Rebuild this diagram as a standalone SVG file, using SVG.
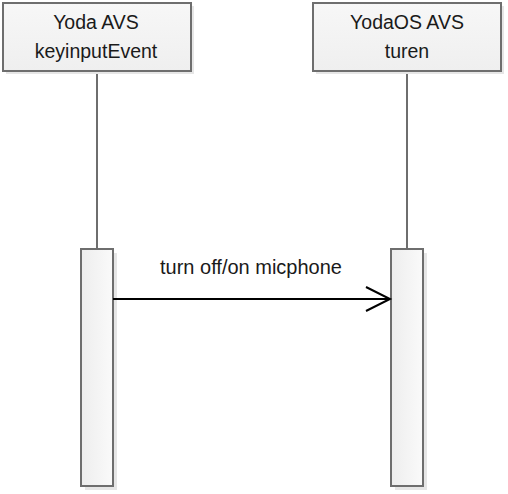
<svg xmlns="http://www.w3.org/2000/svg" width="508" height="494" viewBox="0 0 508 494">
<defs>
<linearGradient id="act" x1="0" y1="0" x2="1" y2="0">
<stop offset="0" stop-color="#ededed"/>
<stop offset="1" stop-color="#fafafa"/>
</linearGradient>
<linearGradient id="hdr" x1="0" y1="0" x2="0" y2="1">
<stop offset="0" stop-color="#f7f7f7"/>
<stop offset="1" stop-color="#efefef"/>
</linearGradient>
</defs>
<style>
.shadow{fill:#e6e6e6;stroke:none}
.box{fill:url(#hdr);stroke:#6e6e6e;stroke-width:2}
.act{fill:url(#act);stroke:#6e6e6e;stroke-width:2}
.life{stroke:#6e6e6e;stroke-width:2;fill:none}
.t{font-family:"Liberation Sans",Arial,sans-serif;font-size:19.5px;fill:#1a1a1a;text-anchor:middle}
.msg{stroke:#000;stroke-width:2;fill:none}
</style>
<rect width="508" height="494" fill="#fff"/>
<g id="lifelines">
<line class="life" x1="97" y1="71" x2="97" y2="249"/>
<line class="life" x1="407" y1="71" x2="407" y2="249"/>
</g>
<g id="node-yoda-avs">
<rect class="shadow" x="6" y="6" width="188" height="68"/>
<rect class="box" x="3" y="3" width="188" height="68"/>
<text class="t" x="96" y="29">Yoda AVS</text>
<text class="t" x="96" y="58">keyinputEvent</text>
</g>
<g id="node-yodaos-avs">
<rect class="shadow" x="316" y="6" width="188" height="68"/>
<rect class="box" x="313" y="3" width="188" height="68"/>
<text class="t" x="407" y="29">YodaOS AVS</text>
<text class="t" x="407" y="58">turen</text>
</g>
<g id="activation-left">
<rect class="shadow" x="85" y="253" width="32" height="237"/>
<rect class="act" x="81" y="249" width="32" height="237"/>
</g>
<g id="activation-right">
<rect class="shadow" x="395" y="253" width="32" height="237"/>
<rect class="act" x="391" y="249" width="32" height="237"/>
</g>
<g id="connectors">
<line class="msg" x1="113" y1="299" x2="390" y2="299"/>
<polyline class="msg" points="366,287 390,299 366,311"/>
<text class="t" x="251" y="274" style="font-size:20px">turn off/on micphone</text>
</g>
</svg>
